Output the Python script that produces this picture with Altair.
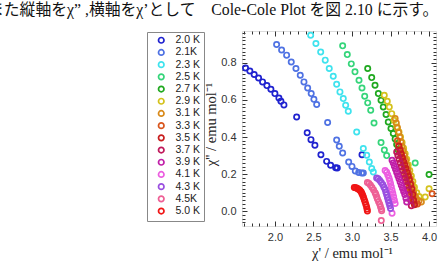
import altair as alt
import pandas as pd
import numpy as np

# ---- data (chi' , chi'') per temperature ----
labels = ["2.0 K", "2.1K", "2.3 K", "2.5 K", "2.7 K", "2.9 K", "3.1 K", "3.3 K",
          "3.5 K", "3.7 K", "3.9 K", "4.1 K", "4.3 K", "4.5K", "5.0 K"]
colors = ["#1f22cf", "#4f72e3", "#3fe3ee", "#35d57a", "#1fa81f", "#d4c21c", "#d98a1a",
          "#d9561e", "#c81e1e", "#c0185a", "#c01fa8", "#ec5ee0", "#9a4fe0", "#ee5f95", "#f01515"]

x_20 = [1.619, 1.675, 1.731, 1.788, 1.840, 1.896, 1.948, 2.000, 2.052, 2.078, 2.117, 2.282,
        2.419, 2.468, 2.519, 2.597, 2.671, 2.723, 2.788, 2.809, 3.13]
y_20 = [0.772, 0.756, 0.737, 0.718, 0.697, 0.677, 0.657, 0.634, 0.610, 0.593, 0.573, 0.508,
        0.423, 0.386, 0.356, 0.305, 0.269, 0.248, 0.235, 0.233, 0.305]
x_21 = [2.022, 2.087, 2.152, 2.212, 2.273, 2.329, 2.377, 2.425, 2.471, 2.506, 2.542, 2.684,
        2.801, 2.835, 2.879, 2.957, 3.000, 3.043, 3.087, 3.126, 3.147]
y_21 = [0.898, 0.869, 0.841, 0.804, 0.769, 0.733, 0.697, 0.664, 0.634, 0.603, 0.575, 0.478,
        0.384, 0.350, 0.314, 0.266, 0.242, 0.217, 0.209, 0.206, 0.206]
x_23 = [2.464, 2.532, 2.594, 2.653, 2.705, 2.757, 2.801, 2.844, 2.887, 2.918, 2.952, 3.061,
        3.147, 3.191, 3.225, 3.256, 3.277]
y_23 = [0.948, 0.904, 0.858, 0.814, 0.769, 0.727, 0.684, 0.643, 0.607, 0.571, 0.539, 0.427,
        0.338, 0.302, 0.266, 0.230, 0.212]
x_25 = [2.879, 2.939, 2.991, 3.039, 3.091, 3.130, 3.165, 3.204, 3.243, 3.286, 3.377, 3.42,
        3.45, 3.82]
y_25 = [0.891, 0.844, 0.794, 0.751, 0.706, 0.664, 0.620, 0.584, 0.544, 0.476, 0.370, 0.33,
        0.30, 0.26]
x_27 = [3.204, 3.256, 3.299, 3.342, 3.377, 3.406, 3.442, 3.471, 3.506, 3.536, 3.56, 3.58,
        3.60, 4.00]
y_27 = [0.769, 0.720, 0.679, 0.634, 0.598, 0.562, 0.521, 0.481, 0.446, 0.419, 0.39, 0.36,
        0.33, 0.198]
x_29 = [3.419, 3.458, 3.484, 3.516, 3.545, 3.581, 3.610, 3.63, 3.65, 3.67, 3.69, 3.71,
        3.73, 3.75, 3.77, 3.79, 3.81, 3.84, 3.87, 3.95, 4.00]
y_29 = [0.625, 0.593, 0.562, 0.526, 0.490, 0.454, 0.427, 0.40, 0.37, 0.34, 0.31, 0.28,
        0.25, 0.22, 0.19, 0.16, 0.13, 0.10, 0.08, 0.077, 0.122]
x_31 = [3.56, 3.575, 3.59, 3.605, 3.62, 3.635, 3.65, 3.665, 3.68, 3.695, 3.71, 3.725, 3.74,
        3.755, 3.77, 3.785, 3.80, 3.82, 3.84, 3.87, 3.90]
y_31 = [0.50, 0.475, 0.45, 0.425, 0.40, 0.375, 0.35, 0.325, 0.30, 0.275, 0.25, 0.225, 0.20,
        0.175, 0.15, 0.125, 0.10, 0.08, 0.065, 0.055, 0.05]
x_33 = [3.59, 3.605, 3.62, 3.635, 3.65, 3.665, 3.68, 3.695, 3.71, 3.725, 3.74, 3.755, 3.77,
        3.785, 3.80, 3.82, 3.85, 4.04]
y_33 = [0.38, 0.355, 0.33, 0.305, 0.28, 0.255, 0.23, 0.205, 0.18, 0.155, 0.13, 0.105, 0.085,
        0.065, 0.05, 0.04, 0.04, 0.095]
x_35 = [3.61, 3.625, 3.64, 3.655, 3.67, 3.685, 3.70, 3.715, 3.73, 3.745, 3.76, 3.775, 3.79,
        3.80, 3.81]
y_35 = [0.35, 0.33, 0.31, 0.29, 0.27, 0.25, 0.23, 0.21, 0.19, 0.17, 0.145, 0.12, 0.09,
        0.06, 0.035]
x_37 = [3.58, 3.595, 3.61, 3.625, 3.64, 3.655, 3.67, 3.685, 3.70, 3.715, 3.73, 3.745, 3.76,
        3.77]
y_37 = [0.32, 0.30, 0.28, 0.26, 0.24, 0.22, 0.20, 0.18, 0.16, 0.14, 0.115, 0.09, 0.06, 0.03]
x_39 = [3.52, 3.535, 3.55, 3.565, 3.58, 3.595, 3.61, 3.625, 3.64, 3.655, 3.67, 3.685, 3.70,
        3.71]
y_39 = [0.275, 0.26, 0.243, 0.226, 0.209, 0.192, 0.175, 0.158, 0.141, 0.124, 0.107, 0.09,
        0.07, 0.05]
x_41 = [3.43, 3.45, 3.465, 3.48, 3.49, 3.50, 3.51, 3.52, 3.53, 3.54, 3.55, 3.56, 3.52]
y_41 = [0.22, 0.21, 0.195, 0.18, 0.165, 0.15, 0.132, 0.114, 0.096, 0.078, 0.06, 0.042, -0.01]
x_43 = [3.32, 3.34, 3.36, 3.38, 3.40, 3.415, 3.43, 3.44, 3.45, 3.46, 3.47, 3.48, 3.49, 3.50]
y_43 = [0.18, 0.175, 0.166, 0.155, 0.143, 0.130, 0.117, 0.103, 0.089, 0.075, 0.060, 0.045,
        0.030, 0.015]
x_45 = [3.20, 3.22, 3.24, 3.26, 3.28, 3.30, 3.31, 3.32, 3.33, 3.345, 3.36, 3.37, 3.38, 3.385,
        3.38]
y_45 = [0.155, 0.150, 0.140, 0.128, 0.115, 0.100, 0.090, 0.078, 0.066, 0.052, 0.038, 0.025,
        0.013, 0.003, -0.05]
x_50 = [3.03, 3.045, 3.06, 3.075, 3.09, 3.105, 3.12, 3.13, 3.14, 3.15, 3.16, 3.17, 3.18,
        3.19, 3.195, 3.20]
y_50 = [0.128, 0.127, 0.125, 0.122, 0.118, 0.112, 0.104, 0.095, 0.085, 0.074, 0.062, 0.05,
        0.037, 0.024, 0.012, 0.002]

series_x = [x_20, x_21, x_23, x_25, x_27, x_29, x_31, x_33, x_35, x_37, x_39, x_41, x_43, x_45, x_50]
series_y = [y_20, y_21, y_23, y_25, y_27, y_29, y_31, y_33, y_35, y_37, y_39, y_41, y_43, y_45, y_50]

rows = []
for lab, xs, ys in zip(labels, series_x, series_y):
    for a, b in zip(xs, ys):
        rows.append({"T": lab, "chi1": a, "chi2": b})
df = pd.DataFrame(rows)

x_major = [2.0, 2.5, 3.0, 3.5, 4.0]
y_major = [0.0, 0.2, 0.4, 0.6, 0.8]
x_all = [round(v, 2) for v in np.arange(1.6, 4.001, 0.1)]
y_all = [round(v, 2) for v in np.arange(-0.08, 0.961, 0.02)]

XDOM = [1.573, 4.09]
YDOM = [-0.079, 0.971]
W, H = 194, 195

sans = "Liberation Sans"
serif = "Liberation Serif"
tick_col = "#333333"

xmaj_test = "abs(datum.value*2 - round(datum.value*2)) < 0.001"
ymaj_test = "abs(datum.value*5 - round(datum.value*5)) < 0.001"

xscale = alt.Scale(domain=XDOM, nice=False, zero=False)
yscale = alt.Scale(domain=YDOM, nice=False, zero=False)

points = alt.Chart(df).mark_point(shape="circle", filled=False, size=28, strokeWidth=1.7, opacity=1).encode(
    x=alt.X("chi1:Q", scale=xscale,
            axis=alt.Axis(values=x_major, format=".1f", ticks=False, domain=False, grid=False,
                          labelFont=sans, labelFontSize=11, labelColor="#333", labelPadding=5,
                          title="χ' / emu mol⁻¹", titleFont=serif, titleFontSize=14.5,
                          titleFontWeight="normal", titleColor="#222", titleX=110, titleY=27,
                          titleBaseline="middle")),
    y=alt.Y("chi2:Q", scale=yscale,
            axis=alt.Axis(values=y_major, format=".1f", ticks=False, domain=False, grid=False,
                          labelFont=sans, labelFontSize=11, labelColor="#333", labelPadding=6,
                          title="χ'' / emu mol⁻¹", titleFont=serif, titleFontSize=14.5,
                          titleFontWeight="normal", titleColor="#222", titleX=-31, titleY=93,
                          titleBaseline="middle")),
    color=alt.Color("T:N", scale=alt.Scale(domain=labels, range=colors),
                    sort=labels,
                    legend=alt.Legend(title=None, orient="none", legendX=-95, legendY=1,
                                      direction="vertical", symbolType="circle",
                                      symbolFillColor="transparent", symbolStrokeWidth=1.7,
                                      symbolSize=30, labelFont=sans, labelFontSize=10.5,
                                      labelColor="#222", labelOffset=9, rowPadding=-0.8,
                                      padding=3, symbolOffset=6, strokeColor="#888",
                                      symbolLimit=40)),
)

def tick_layer(xorient, yorient):
    return alt.Chart(df).mark_point(opacity=0).encode(
        x=alt.X("chi1:Q", scale=xscale,
                axis=alt.Axis(orient=xorient, offset=-H, values=x_all, labels=False, domain=False,
                              grid=False, title=None, tickColor=tick_col, tickWidth=1,
                              tickSize={"condition": {"test": xmaj_test, "value": 5}, "value": 3})),
        y=alt.Y("chi2:Q", scale=yscale,
                axis=alt.Axis(orient=yorient, offset=-W, values=y_all, labels=False, domain=False,
                              grid=False, title=None, tickColor=tick_col, tickWidth=1,
                              tickSize={"condition": {"test": ymaj_test, "value": 5}, "value": 3})),
    )

ticks_a = tick_layer("top", "right")   # lands at bottom/left, pointing inward
ticks_b = tick_layer("bottom", "left")  # lands at top/right, pointing inward

chart = alt.layer(ticks_a, ticks_b, points).resolve_scale(
    x="independent", y="independent"
).properties(
    width=W, height=H,
    autosize=alt.AutoSizeParams(type="none"),
    padding={"left": 242, "top": 31, "right": 9, "bottom": 37},
    title=alt.TitleParams(text="また縦軸をχ” ,横軸をχ’として　Cole-Cole Plot を図 2.10 に示す。",
                          anchor="start", frame="group", dx=-254, offset=3,
                          font="Liberation Serif, Noto Sans CJK JP", fontSize=15.8,
                          fontWeight="normal", color="#111", baseline="middle"),
).configure_view(stroke="#333", strokeWidth=1).configure(background="white")

chart.save("out.html", embed_options={"renderer": "svg", "actions": False})
